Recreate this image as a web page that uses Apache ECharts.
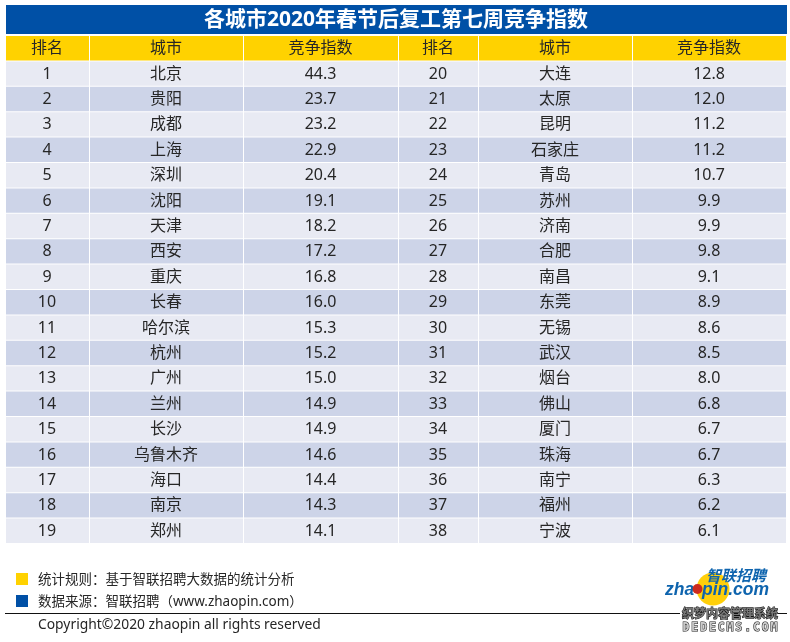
<!DOCTYPE html>
<html>
<head>
<meta charset="utf-8">
<style>html,body{margin:0;padding:0;background:#fff}#main{width:790px;height:642px}</style>
<script src="https://cdn.jsdelivr.net/npm/echarts@6/dist/echarts.min.js"></script>
</head>
<body>
<div id="main"></div>
<script>
const titleText = '各城市2020年春节后复工第七周竞争指数'
const headers = ['排名', '城市', '竞争指数']
const ranks = [1,2,3,4,5,6,7,8,9,10,11,12,13,14,15,16,17,18,19,20,21,22,23,24,25,26,27,28,29,30,31,32,33,34,35,36,37,38]
const cities = ['北京','贵阳','成都','上海','深圳','沈阳','天津','西安','重庆','长春','哈尔滨','杭州','广州','兰州','长沙','乌鲁木齐','海口','南京','郑州',
  '大连','太原','昆明','石家庄','青岛','苏州','济南','合肥','南昌','东莞','无锡','武汉','烟台','佛山','厦门','珠海','南宁','福州','宁波']
const scores = ['44.3','23.7','23.2','22.9','20.4','19.1','18.2','17.2','16.8','16.0','15.3','15.2','15.0','14.9','14.9','14.6','14.4','14.3','14.1',
  '12.8','12.0','11.2','11.2','10.7','9.9','9.9','9.8','9.1','8.9','8.6','8.5','8.0','6.8','6.7','6.7','6.3','6.2','6.1']
const notes = ['统计规则：基于智联招聘大数据的统计分析', '数据来源：智联招聘（www.zhaopin.com）']
const copyright = 'Copyright©2020 zhaopin all rights reserved'
const stampLetters = 'DEDECMS.COM'.split('')

// column borders, in the units of the hidden x axis
const colEdges = [0, 84, 238, 393, 473, 627, 781]
const rowsPerBlock = 19
const BLUE = '#0050a6', YELLOW = '#ffd200'
const FONT = '"Noto Sans","Noto Sans CJK SC",sans-serif'
const LOGO_FONT = 'italic bold 17.5px "Liberation Sans",sans-serif'

// one entry per table cell
let cells = []
for (let b = 0; b < 2; b++) {
  headers.forEach((h, i) => cells.push({ col: b * 3 + i, row: 0, text: h }))
}
ranks.forEach((r, i) => {
  let block = i < rowsPerBlock ? 0 : 1
  let row = (i % rowsPerBlock) + 1
  cells.push({ col: block * 3, row: row, text: String(r) })
  cells.push({ col: block * 3 + 1, row: row, text: cities[i] })
  cells.push({ col: block * 3 + 2, row: row, text: scores[i] })
})

function renderCell(params, api) {
  let c = cells[params.dataIndex]
  let a = api.coord([colEdges[c.col], c.row])
  let b = api.coord([colEdges[c.col + 1], c.row + 1])
  let fill = c.row === 0 ? YELLOW : (c.row % 2 === 1 ? '#e8eaf3' : '#cdd4e8')
  return {
    type: 'group',
    children: [
      { type: 'rect', shape: { x: a[0], y: a[1], width: b[0] - a[0] - 1, height: b[1] - a[1] - 1 }, style: { fill: fill } },
      {
        type: 'text',
        style: {
          x: (a[0] + b[0]) / 2 - 1, y: (a[1] + b[1]) / 2, text: c.text,
          fill: '#262626', font: '16px ' + FONT, align: 'center', verticalAlign: 'middle'
        }
      }
    ]
  }
}

const chart = echarts.init(document.getElementById('main'), null, { renderer: 'canvas' })
chart.setOption({
  animation: false,
  backgroundColor: '#fff',
  grid: { left: 6, right: 3, top: 36, bottom: 98 },
  xAxis: { type: 'value', min: 0, max: 781, show: false },
  yAxis: { type: 'value', min: 0, max: 20, inverse: true, show: false },
  series: [{
    type: 'custom',
    coordinateSystem: 'cartesian2d',
    clip: false,
    silent: true,
    renderItem: renderCell,
    data: cells.map(c => [colEdges[c.col], c.row])
  }],
  graphic: [
    // title band
    { type: 'rect', shape: { x: 6, y: 5, width: 781, height: 29 }, style: { fill: BLUE } },
    { type: 'text', style: { x: 396, y: 20, text: titleText, fill: '#fff', font: 'bold 21px ' + FONT, align: 'center', verticalAlign: 'middle' } },
    // notes
    { type: 'rect', shape: { x: 16, y: 573, width: 12, height: 12 }, style: { fill: YELLOW } },
    { type: 'rect', shape: { x: 16, y: 595, width: 12, height: 12 }, style: { fill: BLUE } },
    { type: 'text', style: { x: 38, y: 580, text: notes[0], fill: '#262626', font: '13.5px ' + FONT, verticalAlign: 'middle' } },
    { type: 'text', style: { x: 38, y: 602, text: notes[1], fill: '#262626', font: '13.5px ' + FONT, verticalAlign: 'middle' } },
    { type: 'line', shape: { x1: 5, y1: 613.5, x2: 787, y2: 613.5 }, style: { stroke: '#111', lineWidth: 1 } },
    { type: 'text', style: { x: 38, y: 625.5, text: copyright, fill: '#262626', font: '13.85px ' + FONT, verticalAlign: 'middle' } },
    // logo
    { type: 'circle', shape: { cx: 713, cy: 589, r: 16.5 }, style: { fill: '#ffcf0a' } },
    { type: 'text', style: { x: 706, y: 577, text: '智联招聘', fill: '#0e64ae', font: 'italic bold 15px ' + FONT, verticalAlign: 'middle' } },
    { type: 'text', style: { x: 665, y: 590, text: 'zha', fill: '#0e64ae', font: LOGO_FONT, verticalAlign: 'middle' } },
    { type: 'circle', shape: { cx: 697.5, cy: 589, r: 5 }, style: { fill: '#cc2a1f' } },
    { type: 'text', style: { x: 702, y: 590, text: 'pin.com', fill: '#0e64ae', font: LOGO_FONT, verticalAlign: 'middle' } },
    // site stamp
    { type: 'rect', shape: { x: 680, y: 608, width: 98, height: 34 }, style: { fill: '#fff' } },
    { type: 'text', style: { x: 730, y: 615, text: '织梦内容管理系统', fill: '#777', stroke: '#111', lineWidth: 1, font: 'bold 12px ' + FONT, align: 'center', verticalAlign: 'middle' } }
  ].concat(stampLetters.map((ch, i) => ({
    type: 'text',
    style: { x: 686 + i * 8.8, y: 628, text: ch, fill: '#ccc', stroke: '#111', lineWidth: 1, font: 'bold 11.5px "DejaVu Sans Mono",monospace', align: 'center', verticalAlign: 'middle' }
  })))
})
</script>
</body>
</html>
